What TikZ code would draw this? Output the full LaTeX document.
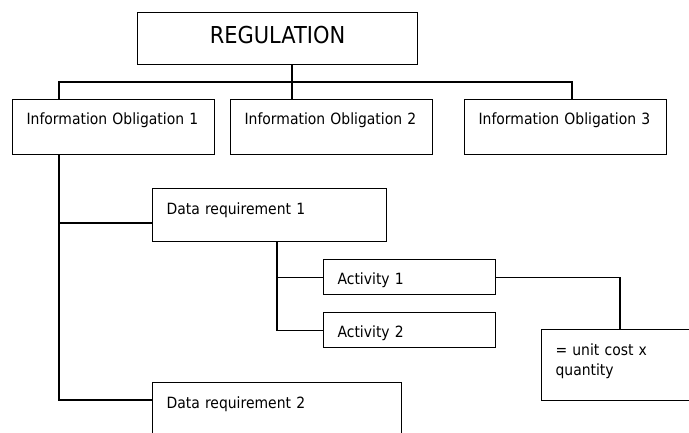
\documentclass[tikz,border=0pt]{standalone}
\usepackage{fontspec}
\setmainfont{DejaVu Sans}[FakeStretch=0.9]
\tikzset{
every picture/.style={
line width=1.1pt
}}
\usetikzlibrary{calc,
                positioning}

\begin{document}
\begin{tikzpicture}[x=1pt, y=-1pt,
       base/.style = {draw, anchor=north west, inner xsep=14pt, inner ysep=0pt,
                      align=left, font=\fontsize{15.5}{20}\selectfont},
       head/.style = {base, inner xsep=0pt, align=center, text width=280pt,
                      text height=31pt, text depth=21pt,
                      font=\fontsize{23.3}{28}\selectfont},
 obligation/.style = {base, text width=174pt, text height=25pt, text depth=30pt},
requirement/.style = {base, text height=26pt},
   activity/.style = {base, text width=144pt, text height=25pt, text depth=10pt},
     result/.style = {base, text width=140pt, text height=26pt, text depth=45pt}
                    ]
\useasboundingbox (0,0) rectangle (689,432);
\node [head]       (REG) at (137,12)  {REGULATION};
\node [obligation] (IO1) at (12,99)   {Information Obligation 1};
\node [obligation] (IO2) at (230,99)  {Information Obligation 2};
\node [obligation] (IO3) at (464,99)  {Information Obligation 3};
%
\node [requirement, text width=206pt, text depth=27pt] (DR1) at (152,188) {Data requirement 1};
\node [requirement, text width=221pt, text depth=45pt] (DR2) at (152,382) {Data requirement 2};
\node [activity]   (A1)  at (323,259) {Activity 1};
\node [activity]   (A2)  at (323,312) {Activity 2};
\node [result]     (R)   at (541,329) {= unit cost x\\ quantity};
%%
\coordinate (hub)   at (292,82);
\coordinate (trunk) at ([xshift=47pt]IO1.south west);
\coordinate (fork)  at ([xshift=125pt]DR1.south west);
\draw (REG.south -| hub) -- (hub) -- (hub |- IO2.north);
\draw ([xshift=47pt]IO1.north west) |- (hub) -| ([xshift=108pt]IO3.north west);
\draw (trunk) |- ([yshift=-18pt]DR2.north west);
\draw (trunk) |- ([yshift=-35pt]DR1.north west);
\draw (fork) |- (A2.west);
\draw (fork) |- (A1.west);
\draw (A1.east) -| ([xshift=79pt]R.north west);
\end{tikzpicture}
\end{document}
